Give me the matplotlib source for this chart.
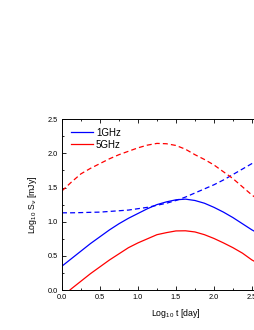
import matplotlib
matplotlib.use("Agg")
import matplotlib.pyplot as plt
from matplotlib.ticker import MultipleLocator

plt.rcParams["font.family"] = ["Liberation Sans", "DejaVu Sans"]
plt.rcParams["mathtext.fontset"] = "custom"
plt.rcParams["mathtext.rm"] = "Liberation Sans"

# log10 t [day]
t = [0.0, 0.125, 0.25, 0.375, 0.5, 0.625, 0.75, 0.875, 1.0, 1.125, 1.25,
     1.375, 1.5, 1.625, 1.75, 1.875, 2.0, 2.125, 2.25, 2.375, 2.5, 2.55]

blue_solid = [0.35, 0.46, 0.57, 0.68, 0.78, 0.88, 0.97, 1.05, 1.12, 1.19, 1.25,
              1.29, 1.32, 1.33, 1.31, 1.27, 1.21, 1.14, 1.06, 0.97, 0.88, 0.85]
red_solid = [-0.10, 0.02, 0.13, 0.24, 0.34, 0.44, 0.53, 0.62, 0.69, 0.75, 0.81,
             0.84, 0.865, 0.867, 0.85, 0.81, 0.755, 0.69, 0.62, 0.54, 0.44, 0.41]
blue_dash = [1.13, 1.13, 1.133, 1.137, 1.14, 1.15, 1.16, 1.17, 1.19, 1.21, 1.24,
             1.27, 1.31, 1.36, 1.42, 1.48, 1.54, 1.61, 1.69, 1.77, 1.85, 1.87]
red_dash = [1.45, 1.58, 1.70, 1.78, 1.85, 1.92, 1.98, 2.03, 2.08, 2.12, 2.145,
            2.14, 2.115, 2.06, 1.98, 1.91, 1.83, 1.73, 1.63, 1.51, 1.39, 1.35]

fig = plt.figure(figsize=(2.55, 3.3), dpi=100)
# the axes run past the right edge of the figure, as in the reference crop
ax = fig.add_axes([0.243, 0.121, 0.894, 0.518])

ax.plot(t, blue_solid, color="#0000ff", lw=0.9, label="1GHz")
ax.plot(t, red_solid, color="#ff0000", lw=0.9, label="5GHz")
ax.plot(t, blue_dash, color="#0000ff", lw=0.9, ls=(0, (4, 2.5)))
ax.plot(t, red_dash, color="#ff0000", lw=0.9, ls=(0, (4, 2.5)))

ax.set_xlim(0, 3.0)
ax.set_ylim(0, 2.5)
ax.xaxis.set_major_locator(MultipleLocator(0.5))
ax.yaxis.set_major_locator(MultipleLocator(0.5))
ax.xaxis.set_minor_locator(MultipleLocator(0.25))
ax.yaxis.set_minor_locator(MultipleLocator(0.25))
ax.xaxis.set_major_formatter(plt.FormatStrFormatter("%.1f"))
ax.yaxis.set_major_formatter(plt.FormatStrFormatter("%.1f"))
ax.tick_params(which="both", direction="in", top=True, right=True, labelsize=5.3, pad=3)
ax.tick_params(which="major", length=3, width=0.6)
ax.tick_params(which="minor", length=1.6, width=0.6)
for sp in ax.spines.values():
    sp.set_linewidth(0.7)

ax.set_xlabel(r"Log$_{10}$ t [day]", fontsize=6.3, labelpad=4)
ax.set_ylabel(r"Log$_{10}$ S$_\nu$ [mJy]", fontsize=6.3, labelpad=6)

ax.legend(loc="upper left", frameon=False, fontsize=7, handlelength=2.3,
          handletextpad=0.3, labelspacing=0.2, borderaxespad=0.5)

fig.savefig("out.png", dpi=100)
